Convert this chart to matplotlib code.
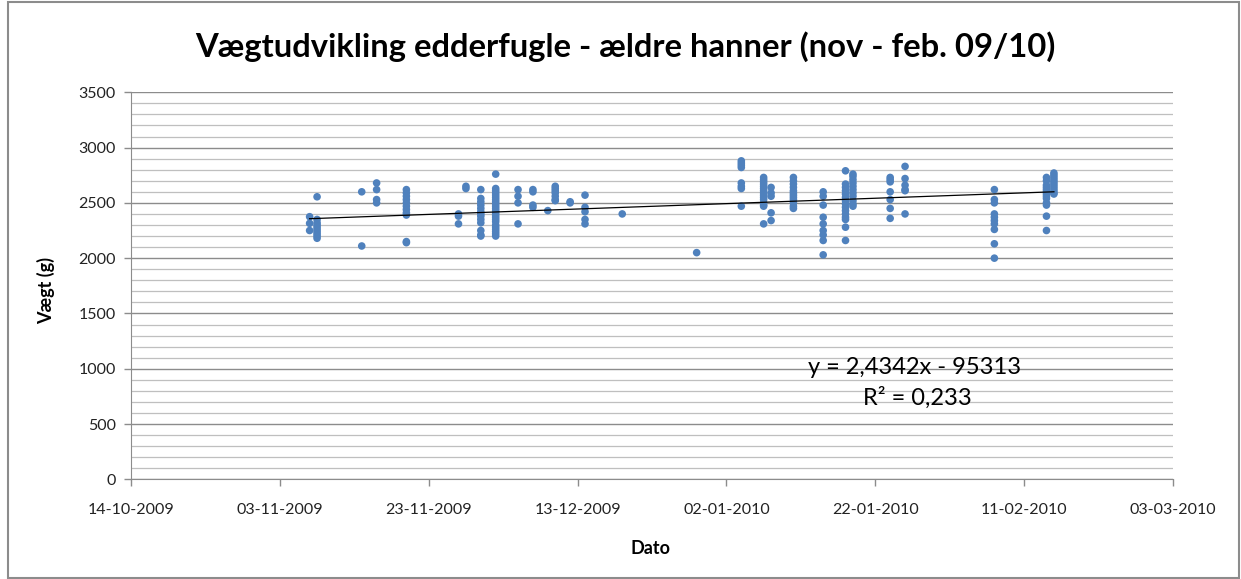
import datetime as dt
import matplotlib
matplotlib.use("Agg")
import matplotlib.pyplot as plt
import matplotlib.dates as mdates
from matplotlib.patches import Rectangle
from matplotlib.ticker import MultipleLocator, FixedLocator

plt.rcParams['font.family'] = ['Lato', 'DejaVu Sans']

# ---- data ----
dates = ["2009-11-07", "2009-11-08", "2009-11-14", "2009-11-16", "2009-11-20",
         "2009-11-27", "2009-11-28", "2009-11-30", "2009-12-02", "2009-12-05",
         "2009-12-07", "2009-12-09", "2009-12-10", "2009-12-12", "2009-12-14",
         "2009-12-19", "2009-12-29", "2010-01-04", "2010-01-07", "2010-01-08",
         "2010-01-11", "2010-01-15", "2010-01-18", "2010-01-19", "2010-01-24",
         "2010-01-26", "2010-02-07", "2010-02-14", "2010-02-15"]

weights = [
    [2375, 2315, 2250],
    [2555, 2350, 2320, 2300, 2280, 2260, 2240, 2220, 2200, 2180],
    [2600, 2110],
    [2680, 2620, 2530, 2500],
    [2620, 2590, 2560, 2530, 2500, 2470, 2440, 2410, 2390, 2150, 2140],
    [2400, 2380, 2310],
    [2650, 2630],
    [2620, 2540, 2510, 2480, 2450, 2420, 2400, 2380, 2350, 2320, 2250, 2210, 2200],
    [2760, 2630, 2610, 2590, 2570, 2550, 2530, 2510, 2490, 2470, 2450, 2430,
     2410, 2390, 2370, 2350, 2330, 2300, 2280, 2260, 2240, 2220, 2200],
    [2620, 2560, 2500, 2310],
    [2620, 2600, 2480, 2460],
    [2430],
    [2650, 2630, 2610, 2590, 2560, 2530, 2520],
    [2510, 2500],
    [2570, 2460, 2420, 2350, 2310],
    [2400],
    [2050],
    [2880, 2860, 2840, 2820, 2680, 2650, 2630, 2470],
    [2730, 2710, 2690, 2670, 2650, 2630, 2610, 2590, 2570, 2550, 2530, 2500,
     2480, 2470, 2310],
    [2640, 2590, 2560, 2410, 2340],
    [2730, 2700, 2670, 2640, 2610, 2590, 2570, 2550, 2530, 2500, 2470, 2450],
    [2600, 2560, 2480, 2370, 2310, 2250, 2210, 2160, 2030],
    [2790, 2670, 2640, 2610, 2580, 2550, 2520, 2490, 2460, 2430, 2400, 2370,
     2350, 2280, 2160],
    [2760, 2740, 2710, 2680, 2650, 2620, 2590, 2560, 2520, 2490, 2470],
    [2730, 2710, 2690, 2600, 2530, 2450, 2360],
    [2830, 2720, 2660, 2620, 2610, 2400],
    [2620, 2530, 2500, 2400, 2370, 2340, 2310, 2260, 2130, 2000],
    [2730, 2700, 2660, 2640, 2620, 2600, 2580, 2560, 2540, 2500, 2480, 2380, 2250],
    [2770, 2750, 2730, 2710, 2690, 2670, 2650, 2630, 2610, 2590, 2580],
]

trend_slope = 2.4342
trend_intercept = -95313
eq_text = "y = 2,4342x - 95313"
r2_text = "R\u00b2 = 0,233"
title = "Vægtudvikling edderfugle - ældre hanner (nov - feb. 09/10)"
xlabel = "Dato"
ylabel = "Vægt (g)"
x_start = "2009-10-14"
x_end = "2010-03-03"
tick_step_days = 20

# ---- build ----
xs, ys = [], []
for d, w in zip(dates, weights):
    dd = dt.datetime.strptime(d, "%Y-%m-%d")
    for v in w:
        xs.append(dd)
        ys.append(v)

fig = plt.figure(figsize=(12.41, 5.79), dpi=100)
ax = fig.add_axes([131 / 1241, 1 - 479.3 / 579, (1173 - 131) / 1241, (479.3 - 92.3) / 579])

x0 = dt.datetime.strptime(x_start, "%Y-%m-%d")
x1 = dt.datetime.strptime(x_end, "%Y-%m-%d")
ax.set_xlim(x0, x1)
ax.set_ylim(0, 3500)

# gridlines
ax.yaxis.set_major_locator(MultipleLocator(500))
ax.yaxis.set_minor_locator(MultipleLocator(100))
ax.grid(True, axis='y', which='major', color='#8c8c8c', linewidth=1.0, zorder=0)
ax.grid(True, axis='y', which='minor', color='#bfbfbf', linewidth=0.9, zorder=0)
ax.tick_params(axis='y', which='minor', length=0)

ticks = []
t = x0
while t <= x1:
    ticks.append(t)
    t += dt.timedelta(days=tick_step_days)
ax.xaxis.set_major_locator(FixedLocator(mdates.date2num(ticks)))
ax.xaxis.set_major_formatter(mdates.DateFormatter('%d-%m-%Y'))

for s in ['top', 'right']:
    ax.spines[s].set_visible(False)
ax.spines['left'].set_color('#8c8c8c')
ax.spines['bottom'].set_color('#8c8c8c')
ax.tick_params(axis='both', which='major', length=5, width=1, color='#8c8c8c',
               labelsize=11.5, labelcolor='#222222', direction='out')
ax.tick_params(axis='x', pad=12)
ax.tick_params(axis='y', pad=6)

ax.scatter(xs, ys, s=30, color='#4f81bd', edgecolors='none', zorder=3)

# trendline (Excel serial dates)
excel_epoch = dt.datetime(1899, 12, 30)
dmin, dmax = min(xs), max(xs)
tx = [dmin, dmax]
ty = [trend_slope * (d - excel_epoch).days + trend_intercept for d in tx]
ax.plot(tx, ty, color='black', linewidth=0.9, zorder=4)

fig.text(915 / 1241, 1 - 367 / 579, eq_text, ha='center', va='center', fontsize=17)
fig.text(917 / 1241, 1 - 398 / 579, r2_text, ha='center', va='center', fontsize=17)

fig.text(625 / 1241, 1 - 47 / 579, title, ha='center', va='center',
         fontsize=23.6, fontweight='bold')
fig.text(651 / 1241, 1 - 549 / 579, xlabel, ha='center', va='center',
         fontsize=13, fontweight='bold')
fig.text(46 / 1241, 1 - 290 / 579, ylabel, ha='center', va='center',
         fontsize=13, fontweight='bold', rotation=90)

fig.patches.append(Rectangle((8 / 1241, 1 / 579), 1231 / 1241, 576 / 579,
                             transform=fig.transFigure, fill=False,
                             edgecolor='#8c8c8c', linewidth=1.5))

fig.savefig("out.png", dpi=100)
